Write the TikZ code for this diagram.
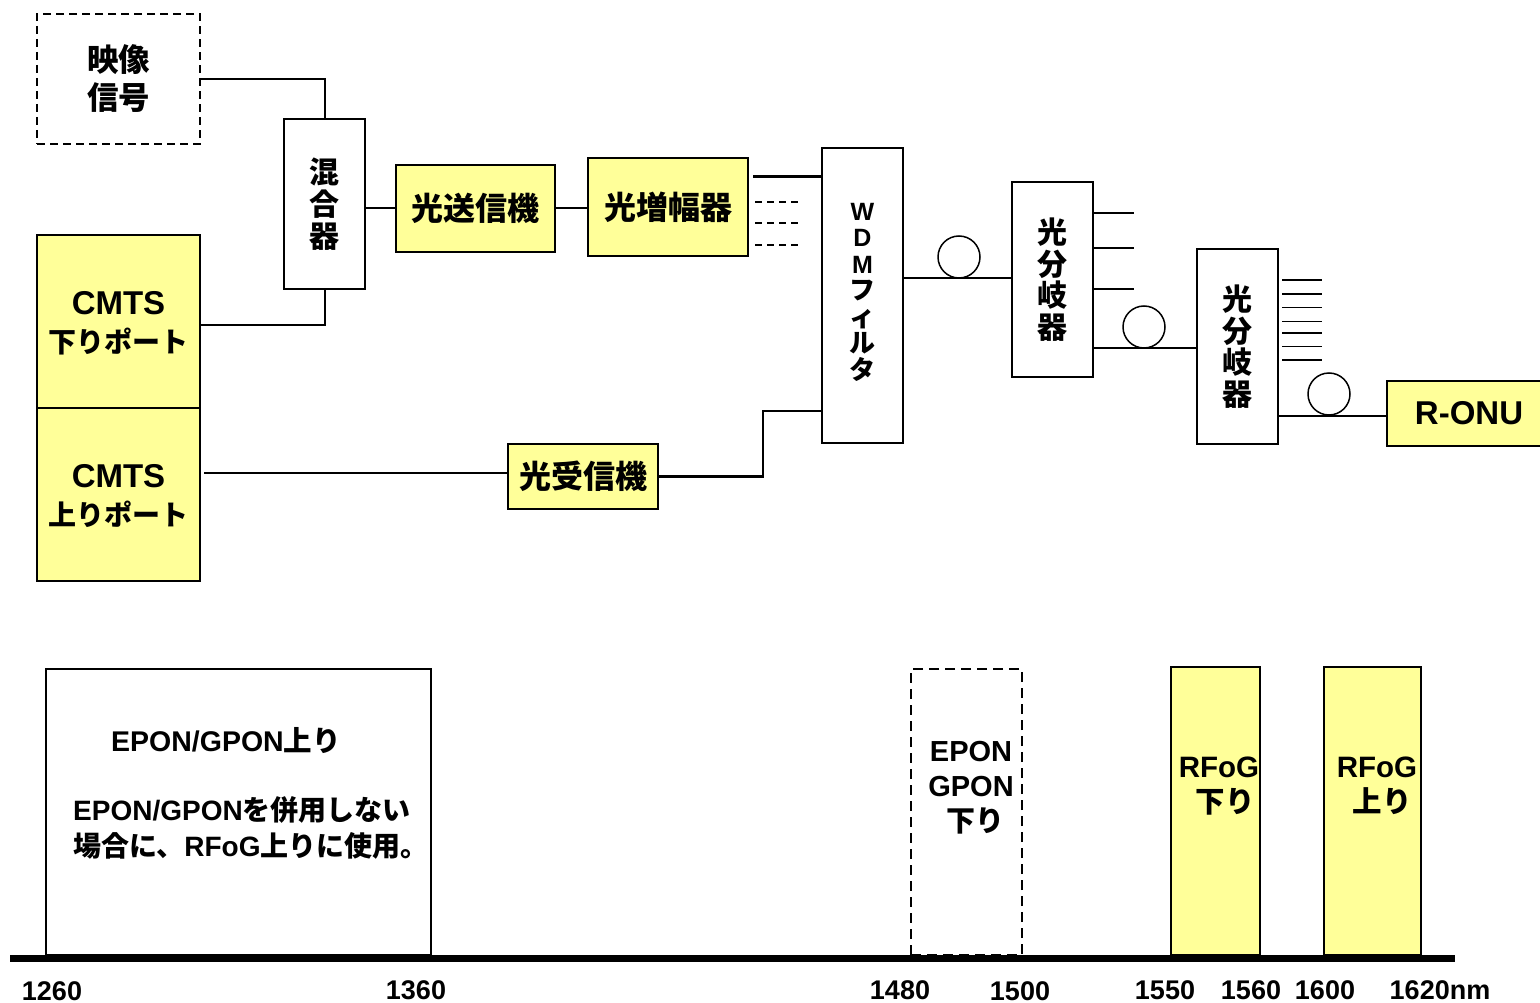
\documentclass[tikz,border=0pt]{standalone}
\usepackage{fontspec}
\setmainfont{Liberation Sans}
\newfontfamily\jp{Noto Sans CJK JP}
\definecolor{yel}{HTML}{FFFF99}
\begin{document}
\begin{tikzpicture}[x=1pt,y=-1pt,
  box/.style={draw, line width=2pt, inner sep=0pt, align=center,
    font=\bfseries\fontsize{30}{38}\selectfont},
  jpbox/.style={box, font=\bfseries\jp\fontsize{32}{38}\selectfont},
  ybox/.style={fill=yel},
  vtext/.style={font=\bfseries\jp\fontsize{30}{32}\selectfont},
  cmtstext/.style={inner sep=0pt, align=center, font=\bfseries\fontsize{33}{38}\selectfont},
  wire/.style={line width=2pt},
  stub/.style={line width=2pt},
  dstub/.style={line width=1.5pt, dash pattern=on 7pt off 5pt},
  coil/.style={draw, circle, line width=1.5pt, minimum size=42pt, inner sep=0pt},
  band/.style={draw, line width=2pt, inner sep=0pt},
  btext/.style={font=\bfseries\fontsize{29.5}{35}\selectfont, align=center, inner sep=0pt},
  ltext/.style={font=\bfseries\fontsize{28}{36}\selectfont, align=left, inner sep=0pt},
  axlab/.style={font=\bfseries\fontsize{27}{30}\selectfont, inner sep=0pt}
]
\useasboundingbox[fill=white] (0,0) rectangle (1540,1003);

% ---------- top diagram ----------
\node[jpbox, dash pattern=on 8pt off 5pt, line width=1.5pt, minimum width=163pt, minimum height=130pt, font=\bfseries\jp\fontsize{31.5}{38}\selectfont] (sig) at (118.5,79) {映像\\信号};
\node[jpbox, vtext, minimum width=81pt, minimum height=170pt] (mix) at (324.5,204) {混\\合\\器};
\node[box, ybox, minimum width=163pt, minimum height=173pt] (cmtsD) at (118.5,321.5) {};
\node[cmtstext] (cmtsDt) at ([yshift=-2pt]cmtsD.center) {CMTS\\{\jp\fontsize{28}{38}\selectfont 下りポート}};
\node[box, ybox, minimum width=163pt, minimum height=173pt] (cmtsU) at (118.5,494.5) {};
\node[cmtstext] (cmtsUt) at ([yshift=-2pt]cmtsU.center) {CMTS\\{\jp\fontsize{28}{38}\selectfont 上りポート}};
\node[jpbox, ybox, minimum width=159pt, minimum height=87pt] (tx) at (475.5,208.5) {光送信機};
\node[jpbox, ybox, minimum width=160pt, minimum height=98pt] (amp) at (668,207) {光増幅器};
\node[box, minimum width=81pt, minimum height=295pt] (wdm) at (862.5,295.5) {};
\node[inner sep=0pt, align=center, font=\bfseries\fontsize{25}{26.5}\selectfont] (wdmt) at (862.5,292) {W\\D\\M\\{\jp\fontsize{26}{26.5}\selectfont フ}\\{\jp\fontsize{26}{26.5}\selectfont ィ}\\{\jp\fontsize{26}{26.5}\selectfont ル}\\{\jp\fontsize{26}{26.5}\selectfont タ}};
\node[jpbox, ybox, minimum width=150pt, minimum height=65pt] (rx) at (583,476.5) {光受信機};
\node[jpbox, vtext, minimum width=81pt, minimum height=195pt, font=\bfseries\jp\fontsize{30}{31.5}\selectfont] (sp1) at (1052.5,279.5) {光\\分\\岐\\器};
\node[jpbox, vtext, minimum width=81pt, minimum height=195pt, font=\bfseries\jp\fontsize{30}{31.5}\selectfont] (sp2) at (1237.5,346.5) {光\\分\\岐\\器};
\node[box, ybox, minimum width=160pt, minimum height=65pt, font=\bfseries\fontsize{33}{38}\selectfont] (onu) at (1467,413.5) {\hspace*{4pt}R-ONU};

% connectors
\draw[wire] (sig.east) -| (mix.north);
\path ([yshift=-3.5pt]cmtsD.east) coordinate (cd);
\draw[wire] (cd) -| (mix.south);
\draw[wire] (tx.west -| mix.east) -- (tx.west);
\draw[wire] (tx.east) -- (tx.east -| amp.west);

\path ([xshift=4pt,yshift=30pt]amp.east) coordinate (a1);
\draw[line width=3pt] (a1) -- (a1 -| wdm.west);
\path ([xshift=6pt,yshift=5pt]amp.east) coordinate (d1);
\path ([xshift=6pt,yshift=-16pt]amp.east) coordinate (d2);
\path ([xshift=6pt,yshift=-38pt]amp.east) coordinate (d3);
\draw[dstub] (d1) -- ++(48,0);
\draw[dstub] (d2) -- ++(48,0);
\draw[dstub] (d3) -- ++(48,0);

\path ([yshift=-115.5pt]wdm.west) coordinate (w2);
\draw[line width=2.5pt] (rx.east) -- ++(104,0) |- (w2);
\path ([yshift=3.5pt]rx.west) coordinate (rw);
\draw[wire] ([xshift=3pt]rw -| cmtsU.east) -- (rw);

\path ([yshift=1.5pt]sp1.west) coordinate (s1w);
\draw[wire] (s1w -| wdm.east) -- (s1w);
\node[coil] (c1) at (959,257) {};

\path ([yshift=66.5pt]sp1.east) coordinate (s11);
\path ([yshift=31.5pt]sp1.east) coordinate (s12);
\path ([yshift=-9.5pt]sp1.east) coordinate (s13);
\draw[stub] (s11) -- ++(40,0);
\draw[stub] (s12) -- ++(40,0);
\draw[stub] (s13) -- ++(40,0);

\path ([yshift=-1.5pt]sp2.west) coordinate (s2w);
\draw[wire] (s2w -| sp1.east) -- (s2w);
\node[coil] (c2) at (1144,327) {};

\foreach \dy [count=\i] in {66.5,52.5,39,25,13.5,0,-13.5} {
  \path ([xshift=3pt,yshift=\dy pt]sp2.east) coordinate (s2\i);
  \draw[line width=1.8pt] (s2\i) -- ++(40,0);
}

\path ([yshift=-2.5pt]onu.west) coordinate (ow);
\draw[wire] (ow -| sp2.east) -- (ow);
\node[coil] (c3) at (1329,394) {};

% ---------- wavelength plan ----------
\node[band, fill=white, minimum width=385pt, minimum height=286pt] (b1) at (238.5,812) {};
\node[btext, font=\bfseries\fontsize{28.5}{35}\selectfont] (t1) at (226,741) {EPON/GPON{\jp 上り}};
\node[ltext, anchor=west] (t2) at (73,828) {EPON/GPON{\jp を併用しない}\\{\jp 場合に、}RFoG{\jp 上りに使用。}};

\node[band, line width=1.8pt, dash pattern=on 10pt off 6pt, minimum width=111pt, minimum height=286pt] (b2) at (966.5,812) {};
\node[btext, font=\bfseries\fontsize{29}{35}\selectfont] (t3) at (971,788) {EPON\\GPON\\\hspace*{8pt}{\jp 下り}};

\node[band, fill=yel, minimum width=89pt, minimum height=288pt] (b3) at (1215.5,811) {};
\node[btext] (t4) at (1219,786) {RFoG\\\hspace*{12pt}{\jp 下り}};

\node[band, fill=yel, minimum width=97pt, minimum height=288pt] (b4) at (1372.5,811) {};
\node[btext] (t5) at (1377,786) {RFoG\\\hspace*{10pt}{\jp 上り}};

\coordinate (ax1) at (10,958.5);
\coordinate (ax2) at (1455,958.5);
\draw[line width=7pt] (ax1) -- (ax2);

\node[axlab] (l1) at (52,991) {1260};
\node[axlab] (l2) at (416,990) {1360};
\node[axlab] (l3) at (900,990) {1480};
\node[axlab] (l4) at (1020,991) {1500};
\node[axlab] (l5) at (1165,990) {1550};
\node[axlab] (l6) at (1251,990) {1560};
\node[axlab] (l7) at (1325,990) {1600};
\node[axlab] (l8) at (1440,990) {1620nm};
\end{tikzpicture}
\end{document}
